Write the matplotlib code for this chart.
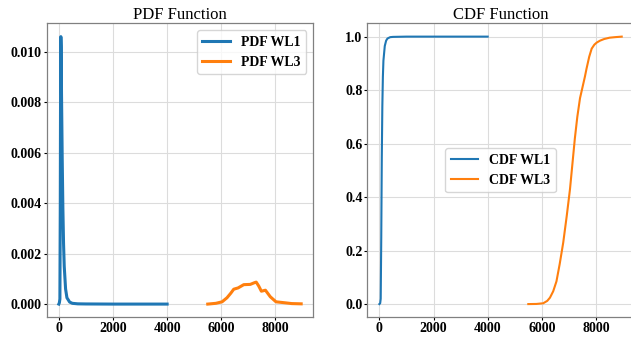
import matplotlib
matplotlib.use("Agg")
import matplotlib.pyplot as plt

# Workload 1: sharp peak near zero, tail out to 4000
pdf_wl1_x = [0, 20, 40, 55, 65, 75, 85, 100, 125, 150, 175, 200, 250, 300, 400, 500, 700, 1000, 2000, 3000, 4000]
pdf_wl1_y = [0.0, 0.00005, 0.0002, 0.004, 0.0085, 0.0106, 0.0102, 0.0083, 0.0058, 0.0038, 0.0024, 0.0015,
             0.0006, 0.00025, 0.00008, 0.00003, 0.00001, 0.000005, 0.0, 0.0, 0.0]

cdf_wl1_x = [0, 30, 50, 70, 90, 110, 130, 150, 200, 250, 300, 400, 500, 1000, 2000, 4000]
cdf_wl1_y = [0.0, 0.003, 0.02, 0.25, 0.55, 0.74, 0.85, 0.91, 0.965, 0.985, 0.993, 0.998, 0.999, 1.0, 1.0, 1.0]

# Workload 3: broad hump between 5500 and 8950
pdf_wl3_x = [5500, 5800, 6030, 6210, 6350, 6460, 6620, 6830, 7070, 7230, 7290, 7380, 7480, 7630, 7810, 8020, 8360, 8600, 8950]
pdf_wl3_y = [0.0, 0.00003, 0.00009, 0.00025, 0.00043, 0.00059, 0.00064, 0.00077, 0.00078, 0.00085, 0.00087,
             0.00072, 0.00051, 0.00055, 0.00029, 0.00009, 0.00005, 0.00002, 0.00001]

cdf_wl3_x = [5500, 5800, 6050, 6200, 6300, 6420, 6540, 6660, 6790, 6920, 7040, 7130, 7220, 7310, 7410,
             7500, 7590, 7650, 7750, 7840, 7940, 8030, 8150, 8300, 8500, 8700, 8950]
cdf_wl3_y = [0.0, 0.0005, 0.003, 0.012, 0.024, 0.048, 0.085, 0.15, 0.23, 0.33, 0.43, 0.525, 0.62, 0.70, 0.77,
             0.81, 0.85, 0.88, 0.925, 0.955, 0.97, 0.978, 0.985, 0.991, 0.996, 0.998, 1.0]

blue = "#1f77b4"
orange = "#ff7f0e"

plt.rcParams["font.family"] = ["Liberation Serif", "DejaVu Serif"]

fig = plt.figure(figsize=(6.31, 3.37), dpi=100)
ax1 = fig.add_axes([0.074, 0.058, 0.4225, 0.873])
ax2 = fig.add_axes([0.582, 0.058, 0.4225, 0.873])


def style(ax):
    ax.grid(True, color="#dcdcdc", linewidth=0.8)
    ax.set_axisbelow(True)
    for s in ax.spines.values():
        s.set_color("#808080")
        s.set_linewidth(0.9)
    ax.tick_params(colors="black", labelsize=10, length=2, width=0.8, pad=1.5)
    for lbl in ax.get_xticklabels() + ax.get_yticklabels():
        lbl.set_fontweight("bold")


ax1.plot(pdf_wl1_x, pdf_wl1_y, color=blue, linewidth=2.2, label="PDF WL1")
ax1.plot(pdf_wl3_x, pdf_wl3_y, color=orange, linewidth=2.2, label="PDF WL3")
ax1.set_title("PDF Function", fontsize=12, pad=3)
ax1.set_xticks([0, 2000, 4000, 6000, 8000])
ax1.set_yticks([0.0, 0.002, 0.004, 0.006, 0.008, 0.010])
ax1.set_yticklabels(["0.000", "0.002", "0.004", "0.006", "0.008", "0.010"])
ax1.legend(loc="upper right", prop={"weight": "bold", "size": 10})
style(ax1)

ax2.plot(cdf_wl1_x, cdf_wl1_y, color=blue, linewidth=1.5, label="CDF WL1")
ax2.plot(cdf_wl3_x, cdf_wl3_y, color=orange, linewidth=1.5, label="CDF WL3")
ax2.set_title("CDF Function", fontsize=12, pad=3)
ax2.set_xticks([0, 2000, 4000, 6000, 8000])
ax2.set_yticks([0.0, 0.2, 0.4, 0.6, 0.8, 1.0])
ax2.legend(loc="center", prop={"weight": "bold", "size": 10})
style(ax2)

fig.savefig("out.png", dpi=100)
